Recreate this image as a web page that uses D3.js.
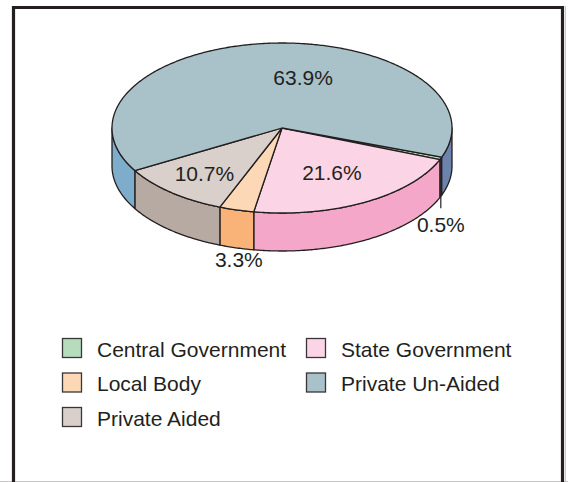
<!DOCTYPE html>
<html>
<head>
<meta charset="utf-8">
<script src="https://cdn.jsdelivr.net/npm/d3@7"></script>
<style>
  html, body { margin: 0; padding: 0; background: #fff; }
  svg { display: block; }
  text { font-family: "Liberation Sans", Arial, sans-serif; fill: #231f20; }
</style>
</head>
<body>
<svg id="chart" width="568" height="482"></svg>
<script>
// ---- data ----
const categories = ["Central Government", "State Government", "Local Body", "Private Aided", "Private Un-Aided"];
const values = [0.5, 21.6, 3.3, 10.7, 63.9];
const valueLabels = ["0.5%", "21.6%", "3.3%", "10.7%", "63.9%"];
const legendOrder = ["Central Government", "State Government", "Local Body", "Private Un-Aided", "Private Aided"];

// ---- styles ----
const topColors = ["#b6dcbb", "#fbd5e6", "#fdd8b6", "#d9cfcb", "#a9c1c8"];
const sideColors = ["#a9d6b0", "#f4a7c9", "#f9b379", "#b7aaa2", "#7eaccb"];
const sideColorsRight = ["#a9d6b0", "#f4a7c9", "#f9b379", "#b7aaa2", "#6c83ad"];
const ink = "#231f20";

const svg = d3.select("#chart");
const W = 568, H = 482;

// frame
svg.append("line").attr("x1", 0).attr("x2", W).attr("y1", 481.5).attr("y2", 481.5)
  .attr("stroke", "#c8c8c8").attr("stroke-width", 1);
svg.append("line").attr("x1", 565.5).attr("x2", 565.5).attr("y1", 6).attr("y2", H)
  .attr("stroke", "#c8c8c8").attr("stroke-width", 1);
svg.append("path")
  .attr("d", `M13.5,${H + 10} L13.5,7.5 L562.5,7.5 L562.5,${H + 10}`)
  .attr("fill", "none").attr("stroke", ink).attr("stroke-width", 3.2);

// geometry
const cx = 282, cy = 128, rx = 170, ry = 85, depth = 38;
const x = d3.scaleLinear().domain([-1, 1]).range([cx - rx, cx + rx]);
const y = d3.scaleLinear().domain([-1, 1]).range([cy - ry, cy + ry]);
const P = (t, dz = 0) => [x(Math.sin(t)), y(-Math.cos(t)) + dz];

const start = 110 * Math.PI / 180;
const pie = d3.pie().sort(null).value(d => d).startAngle(start).endAngle(start + 2 * Math.PI);
const arcs = pie(values);
const line = d3.line();

function samples(a0, a1) {
  const n = Math.max(2, Math.ceil(Math.abs(a1 - a0) / 0.01));
  return d3.range(n + 1).map(i => a0 + (a1 - a0) * i / n);
}

// side walls (front half)
const sideG = svg.append("g");
arcs.forEach((a, i) => {
  [0, 2 * Math.PI].forEach(off => {
    const lo = Math.max(a.startAngle, Math.PI / 2 + off);
    const hi = Math.min(a.endAngle, 3 * Math.PI / 2 + off);
    if (hi <= lo) return;
    const ts = samples(lo, hi);
    const pts = ts.map(t => P(t)).concat(ts.slice().reverse().map(t => P(t, depth)));
    const mid = (lo + hi) / 2;
    const right = Math.sin(mid) > 0.5;
    sideG.append("path")
      .attr("d", line(pts) + "Z")
      .attr("fill", right ? sideColorsRight[i] : sideColors[i])
      .attr("stroke", ink).attr("stroke-width", 1.3).attr("stroke-linejoin", "round");
  });
});

// top slices
const topG = svg.append("g");
arcs.forEach((a, i) => {
  const pts = [[cx, cy]].concat(samples(a.startAngle, a.endAngle).map(t => P(t)));
  topG.append("path")
    .attr("d", line(pts) + "Z")
    .attr("fill", topColors[i])
    .attr("stroke", ink).attr("stroke-width", 1.3).attr("stroke-linejoin", "round");
});

// labels
const labelG = svg.append("g").attr("font-size", 21).attr("text-anchor", "middle");
arcs.forEach((a, i) => {
  const mid = (a.startAngle + a.endAngle) / 2;
  const name = categories[i];
  if (name === "Central Government") {
    const p0 = P(mid);
    const p1 = P(mid, depth + 12);
    labelG.append("line").attr("x1", p0[0]).attr("y1", p0[1])
      .attr("x2", p1[0]).attr("y2", p1[1]).attr("stroke", ink).attr("stroke-width", 1.2);
    labelG.append("text").attr("x", p1[0]).attr("y", p1[1] + 24).text(valueLabels[i]);
  } else if (name === "Local Body") {
    const px = cx + (P(mid)[0] - cx) * 0.95;
    const py = P(mid, depth)[1];
    labelG.append("text").attr("x", px).attr("y", py + 19).text(valueLabels[i]);
  } else {
    const f = name === "Private Aided" ? 0.7 : 0.6;
    const dx = name === "Private Un-Aided" ? 30 : 0;
    const px = cx + rx * Math.sin(mid) * f + dx;
    const py = cy - ry * Math.cos(mid) * f;
    labelG.append("text").attr("x", px).attr("y", py + 8).text(valueLabels[i]);
  }
});

// legend
const legG = svg.append("g");
legendOrder.forEach((name, k) => {
  const i = categories.indexOf(name);
  const col = k % 2, row = Math.floor(k / 2);
  const gx = col === 0 ? 62 : 306;
  const gy = 338 + row * 34.5;
  legG.append("rect").attr("x", gx + 0.5).attr("y", gy + 0.5).attr("width", 19).attr("height", 19)
    .attr("fill", topColors[i]).attr("stroke", "#3a3536").attr("stroke-width", 1.3);
  legG.append("text").attr("x", gx + 35).attr("y", gy + 18.5).attr("font-size", 21).text(name);
});
</script>
</body>
</html>
